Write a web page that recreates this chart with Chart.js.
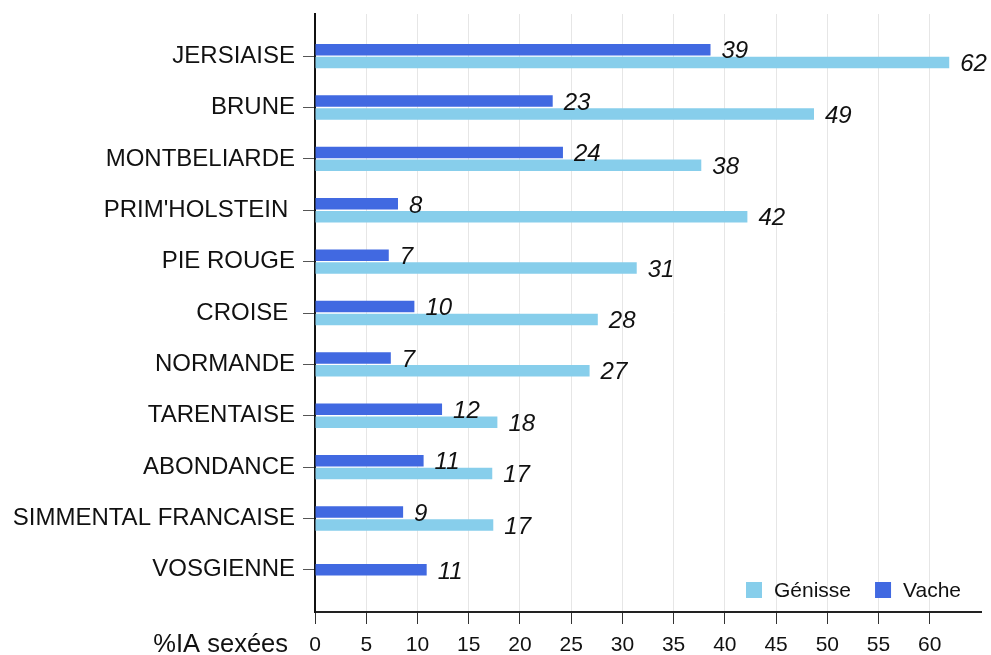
<!DOCTYPE html>
<html>
<head>
<meta charset="utf-8">
<script src="https://cdn.jsdelivr.net/npm/chart.js@4/dist/chart.umd.min.js"></script>
<style>
  body { margin: 0; background: #fff; }
  #wrap { width: 991px; height: 655px; position: relative; }
</style>
</head>
<body>
<div id="wrap"><canvas id="chart"></canvas></div>
<script>
// races, top to bottom
const races = [
  "JERSIAISE", "BRUNE", "MONTBELIARDE", "PRIM'HOLSTEIN ", "PIE ROUGE", "CROISE ",
  "NORMANDE", "TARENTAISE", "ABONDANCE", "SIMMENTAL FRANCAISE", "VOSGIENNE"
];
// % of sexed AI
const vache   = [38.6, 23.2, 24.2, 8.1, 7.2, 9.7, 7.4, 12.4, 10.6, 8.6, 10.9];
const genisse = [61.9, 48.7, 37.7, 42.2, 31.4, 27.6, 26.8, 17.8, 17.3, 17.4, null];
const xTicks = [0, 5, 10, 15, 20, 25, 30, 35, 40, 45, 50, 55, 60];
const axisTitle = "%IA sexées";

const FONT = '"Liberation Sans", Arial, sans-serif';
const toPoints = (arr) => arr.map((v, i) => ({ x: v, y: i }));

// value labels next to each bar
const valueLabels = {
  id: "valueLabels",
  afterDatasetsDraw(chart) {
    const ctx = chart.ctx;
    ctx.save();
    ctx.font = "italic 24px " + FONT;
    ctx.fillStyle = "#111";
    ctx.textAlign = "left";
    ctx.textBaseline = "middle";
    chart.data.datasets.forEach((ds, di) => {
      const meta = chart.getDatasetMeta(di);
      meta.data.forEach((bar, i) => {
        const v = ds.data[i].x;
        if (v == null) return;
        ctx.fillText(Math.round(v), bar.x + 11, bar.y + 2);
      });
    });
    ctx.restore();
  }
};

// legend inside the plot (bottom right) + axis title left of the ticks
const extras = {
  id: "extras",
  afterDraw(chart) {
    const { ctx, chartArea } = chart;
    ctx.save();
    ctx.font = "21px " + FONT;
    ctx.textBaseline = "middle";
    ctx.textAlign = "left";
    const items = [
      { text: "Génisse", color: "#87CEEB" },
      { text: "Vache", color: "#4169E1" }
    ];
    let x = chartArea.right - 235;
    const y = chartArea.bottom - 22;
    items.forEach((it) => {
      ctx.fillStyle = it.color;
      ctx.fillRect(x, y - 8, 16, 16);
      ctx.fillStyle = "#111";
      ctx.fillText(it.text, x + 28, y + 1);
      x += 28 + ctx.measureText(it.text).width + 24;
    });

    ctx.font = "25.5px " + FONT;
    ctx.textAlign = "right";
    ctx.fillStyle = "#111";
    ctx.fillText(axisTitle, 288, 645);
    ctx.restore();
  }
};

new Chart(document.getElementById("chart"), {
  type: "bar",
  data: {
    datasets: [
      { label: "Vache", data: toPoints(vache), backgroundColor: "#4169E1" },
      { label: "Génisse", data: toPoints(genisse), backgroundColor: "#87CEEB" }
    ]
  },
  options: {
    indexAxis: "y",
    responsive: true,
    maintainAspectRatio: false,
    animation: false,
    skipNull: true,
    categoryPercentage: 0.5,
    barPercentage: 0.9,
    maxBarThickness: 11.5,
    layout: { padding: { top: 14, right: 10, left: 0, bottom: 0 } },
    plugins: {
      legend: { display: false },
      tooltip: { enabled: false }
    },
    scales: {
      x: {
        type: "linear",
        min: 0,
        max: 65,
        afterBuildTicks: (scale) => { scale.ticks = xTicks.map((v) => ({ value: v })); },
        afterFit: (scale) => { scale.height = 43; },
        grid: { color: "#e6e6e6", tickColor: "#333", tickLength: 12, lineWidth: 1 },
        border: { color: "#222", width: 2 },
        ticks: { color: "#111", font: { family: FONT, size: 21 }, padding: 9, maxRotation: 0 }
      },
      y: {
        type: "linear",
        reverse: true,
        offset: false,
        min: -0.82,
        max: 10.82,
        afterBuildTicks: (scale) => { scale.ticks = races.map((r, i) => ({ value: i })); },
        afterFit: (scale) => {
          scale.width = 315;
          // labels never reach the ends, no extra room needed
          scale.paddingTop = 0;
          scale.paddingBottom = 0;
        },
        grid: { offset: false, drawOnChartArea: false, tickColor: "#555", tickLength: 12 },
        border: { color: "#111", width: 2 },
        ticks: {
          color: "#111",
          font: { family: FONT, size: 24 },
          padding: 8,
          callback: (v) => races[v]
        }
      }
    }
  },
  plugins: [valueLabels, extras]
});
</script>
</body>
</html>
